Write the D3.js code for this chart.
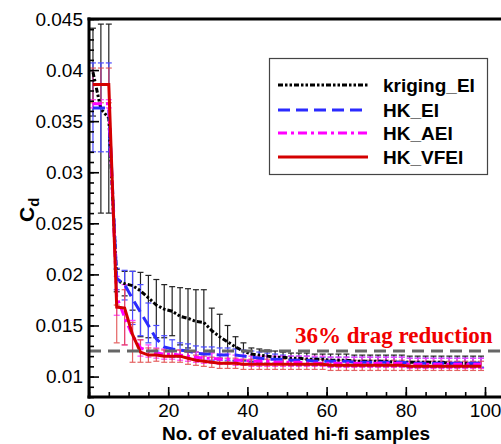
<!DOCTYPE html>
<html>
<head>
<meta charset="utf-8">
<script src="https://cdn.jsdelivr.net/npm/d3@7"></script>
<style>
  body { margin: 0; background: #fff; }
  text { font-family: "Liberation Sans", Arial, sans-serif; }
</style>
</head>
<body>
<div id="container"></div>
<script>
// sample numbers where the curves / error bars are read
let samples = [1,3,5,7,9,11,13,15,17,19,21,23,25,27,29,31,33,35,37,39,41,43,45,47,49,
  51,53,55,57,59,61,63,65,67,69,71,73,75,77,79,81,83,85,87,89,91,93,95,97,99];

let kriging = [.0398,.0362,.0353,.0194,.0191,.0189,.0184,.0177,.0170,.0166,
  .0164,.0159,.0157,.0154,.0153,.0145,.0139,.0134,.0129,.0125,
  .0122,.0121,.0120,.0119,.0119,.0118,.0118,.0117,.0117,.0117,
  .0116,.0116,.0116,.0115,.0115,.0115,.0115,.0115,.0114,.0114,
  .0114,.0114,.0114,.0114,.0114,.0113,.0113,.0113,.0113,.0113];
let krigingLo = [.0355,.0260,.0260,.0183,.0179,.0165,.0139,.0138,.0138,.0138,
  .0140,.0131,.0128,.0124,.0122,.0124,.0118,.0114,.0116,.0116,
  .0115,.0114,.0113,.0113,.0112,.0112,.0112,.0111,.0111,.0111,
  .0110,.0110,.0110,.0110,.0110,.0110,.0110,.0110,.0110,.0110,
  .0109,.0109,.0109,.0109,.0109,.0109,.0109,.0109,.0109,.0109];
let krigingHi = [.0441,.0445,.0445,.0205,.0203,.0203,.0202,.0199,.0195,.0190,
  .0188,.0187,.0186,.0185,.0185,.0167,.0161,.0150,.0139,.0133,
  .0128,.0127,.0126,.0125,.0124,.0123,.0123,.0123,.0122,.0122,
  .0122,.0122,.0122,.0121,.0121,.0121,.0121,.0121,.0121,.0121,
  .0120,.0120,.0120,.0120,.0120,.0120,.0120,.0120,.0120,.0120];

let hkEI = [.0363,.0363,.0363,.0196,.0190,.0176,.0163,.0150,.0137,.0129,
  .0127,.0126,.0125,.0123,.0122,.0122,.0121,.0121,.0121,.0120,
  .0119,.0118,.0117,.0117,.0117,.0116,.0116,.0116,.0115,.0115,
  .0115,.0115,.0115,.0114,.0114,.0114,.0114,.0114,.0114,.0114,
  .0113,.0113,.0113,.0113,.0113,.0113,.0113,.0113,.0113,.0113];
let hkEILo = [.0320,.0320,.0320,.0185,.0175,.0151,.0140,.0133,.0125,.0120,
  .0119,.0119,.0118,.0117,.0116,.0116,.0116,.0116,.0115,.0115,
  .0114,.0113,.0112,.0112,.0112,.0111,.0111,.0111,.0111,.0111,
  .0110,.0110,.0110,.0110,.0110,.0110,.0110,.0110,.0110,.0110,
  .0109,.0109,.0109,.0109,.0109,.0109,.0109,.0109,.0109,.0109];
let hkEIHi = [.0407,.0407,.0407,.0206,.0204,.0203,.0190,.0172,.0150,.0140,
  .0136,.0133,.0132,.0130,.0129,.0129,.0128,.0128,.0127,.0126,
  .0125,.0124,.0123,.0122,.0121,.0120,.0120,.0120,.0119,.0119,
  .0119,.0119,.0119,.0119,.0119,.0119,.0119,.0119,.0119,.0119,
  .0118,.0118,.0118,.0118,.0118,.0118,.0118,.0118,.0118,.0118];

let hkAEI = [.0367,.0367,.0367,.0178,.0158,.0140,.0128,.0125,.0123,.0122,
  .0122,.0121,.0120,.0119,.0118,.0118,.0117,.0117,.0116,.0116,
  .0115,.0115,.0115,.0114,.0114,.0114,.0114,.0113,.0113,.0113,
  .0113,.0113,.0113,.0113,.0113,.0113,.0113,.0113,.0113,.0113,
  .0112,.0112,.0112,.0112,.0112,.0112,.0112,.0112,.0112,.0112];
let hkAEILo = [.0363,.0363,.0363,.0160,.0131,.0125,.0120,.0119,.0118,.0117,
  .0117,.0116,.0115,.0114,.0113,.0113,.0112,.0112,.0111,.0111,
  .0110,.0110,.0110,.0110,.0110,.0110,.0110,.0110,.0110,.0110,
  .0109,.0109,.0109,.0109,.0109,.0109,.0109,.0109,.0109,.0109,
  .0108,.0108,.0108,.0108,.0108,.0108,.0108,.0108,.0108,.0108];
let hkAEIHi = [.0371,.0371,.0371,.0198,.0190,.0155,.0136,.0131,.0128,.0127,
  .0127,.0126,.0125,.0124,.0123,.0123,.0122,.0122,.0121,.0121,
  .0120,.0120,.0120,.0120,.0120,.0120,.0120,.0120,.0120,.0120,
  .0119,.0119,.0119,.0119,.0119,.0119,.0119,.0119,.0119,.0119,
  .0118,.0118,.0118,.0118,.0118,.0118,.0118,.0118,.0118,.0118];

let hkVFEI = [.0386,.0386,.0386,.0168,.0167,.0141,.0124,.0121,.0121,.0120,
  .0120,.0120,.0118,.0116,.0115,.0114,.0113,.0113,.0113,.0112,
  .0112,.0112,.0112,.0112,.0112,.0112,.0112,.0112,.0112,.0112,
  .0111,.0111,.0111,.0111,.0111,.0111,.0111,.0111,.0111,.0111,
  .0110,.0110,.0110,.0110,.0110,.0110,.0110,.0110,.0110,.0110];
let hkVFEILo = [.0368,.0368,.0368,.0133,.0131,.0114,.0114,.0114,.0115,.0114,
  .0114,.0114,.0112,.0111,.0110,.0109,.0108,.0108,.0108,.0107,
  .0107,.0107,.0107,.0107,.0107,.0107,.0107,.0107,.0107,.0107,
  .0106,.0106,.0106,.0106,.0106,.0106,.0106,.0106,.0106,.0106,
  .0106,.0106,.0106,.0106,.0106,.0106,.0106,.0106,.0106,.0106];
let hkVFEIHi = [.0402,.0402,.0402,.0170,.0185,.0153,.0136,.0128,.0127,.0126,
  .0126,.0126,.0124,.0121,.0120,.0119,.0118,.0118,.0118,.0117,
  .0117,.0117,.0117,.0117,.0117,.0117,.0117,.0117,.0117,.0117,
  .0116,.0116,.0116,.0116,.0116,.0116,.0116,.0116,.0116,.0116,
  .0115,.0115,.0115,.0115,.0115,.0115,.0115,.0115,.0115,.0115];

let seriesNames = ["kriging_EI", "HK_EI", "HK_AEI", "HK_VFEI"];
let xTicks = [0, 20, 40, 60, 80, 100];
let yTicks = [0.01, 0.015, 0.02, 0.025, 0.03, 0.035, 0.04, 0.045];
let yTickLabels = ["0.01", "0.015", "0.02", "0.025", "0.03", "0.035", "0.04", "0.045"];
let targetCd = 0.0125;
let targetLabel = "36% drag reduction";

let w = 501;
let h = 444;

let viz = d3.select("#container")
  .append("svg")
    .attr("width", w)
    .attr("height", h)
;

let x = d3.scaleLinear().domain([0, 100]).range([89, 485]);
let y = d3.scaleLinear().domain([0.008, 0.045]).range([397, 19]);

let series = [
  {name: seriesNames[0], v: kriging, lo: krigingLo, hi: krigingHi, color: "#000", bar: "#222", dash: "5,2,2.5,2,2.5,2", width: 3},
  {name: seriesNames[1], v: hkEI, lo: hkEILo, hi: hkEIHi, color: "#2b2bff", bar: "#4a4aff", dash: "12,6", width: 3},
  {name: seriesNames[2], v: hkAEI, lo: hkAEILo, hi: hkAEIHi, color: "#ff00ff", bar: "#ff40ff", dash: "9,4,3,4", width: 3},
  {name: seriesNames[3], v: hkVFEI, lo: hkVFEILo, hi: hkVFEIHi, color: "#d40000", bar: "#e04848", dash: null, width: 3}
];

viz.append("clipPath").attr("id", "plotclip")
  .append("rect")
    .attr("x", 89).attr("y", 17)
    .attr("width", w - 89).attr("height", 380);

let plot = viz.append("g").attr("clip-path", "url(#plotclip)");

//error bars
series.forEach(s => {
  let g = plot.append("g").attr("class", "errbars")
    .attr("stroke", s.bar)
    .attr("stroke-width", 1.2)
    .attr("opacity", s.name == "HK_VFEI" ? 0.85 : 1);
  samples.forEach((sx, i) => {
    let px = x(sx);
    g.append("line").attr("x1", px).attr("x2", px).attr("y1", y(s.lo[i])).attr("y2", y(s.hi[i]));
    g.append("line").attr("x1", px - 3).attr("x2", px + 3).attr("y1", y(s.lo[i])).attr("y2", y(s.lo[i]));
    g.append("line").attr("x1", px - 3).attr("x2", px + 3).attr("y1", y(s.hi[i])).attr("y2", y(s.hi[i]));
  });
});

//curves
let line = d3.line()
  .x((d, i) => x(samples[i]))
  .y(d => y(d));

series.forEach(s => {
  plot.append("path")
    .datum(s.v)
    .attr("d", line)
    .attr("fill", "none")
    .attr("stroke", s.color)
    .attr("stroke-width", s.width)
    .attr("stroke-dasharray", s.dash)
  ;
});

//target line
viz.append("line")
  .attr("x1", x(0)).attr("x2", w)
  .attr("y1", y(targetCd)).attr("y2", y(targetCd))
  .attr("stroke", "#666")
  .attr("stroke-width", 3)
  .attr("stroke-dasharray", "12,7")
;

viz.append("text")
  .text(targetLabel)
  .attr("x", 295)
  .attr("y", 343)
  .style("font-family", "'Liberation Serif', 'Times New Roman', serif")
  .style("font-weight", "bold")
  .style("font-size", "23px")
  .attr("fill", "#f00000")
;

//axes
let yAxis = d3.axisLeft(y)
  .tickValues(yTicks)
  .tickFormat((d, i) => yTickLabels[i])
  .tickSizeInner(-10)
  .tickSizeOuter(0)
  .tickPadding(6);
let yMinor = d3.axisLeft(y)
  .tickValues(d3.range(8, 46).map(d => d / 1000))
  .tickFormat("")
  .tickSizeInner(-5)
  .tickSizeOuter(0);
let xAxis = d3.axisBottom(x)
  .tickValues(xTicks)
  .tickSizeInner(-10)
  .tickSizeOuter(0)
  .tickPadding(7);
let xMinor = d3.axisBottom(x)
  .tickValues(d3.range(0, 101, 5))
  .tickFormat("")
  .tickSizeInner(-5)
  .tickSizeOuter(0);

viz.append("g").attr("transform", "translate(89,0)").call(yMinor);
viz.append("g").attr("transform", "translate(89,0)").call(yAxis);
viz.append("g").attr("transform", "translate(0,397)").call(xMinor);
viz.append("g").attr("transform", "translate(0,397)").call(xAxis);

viz.selectAll(".tick line").attr("stroke", "#000").attr("stroke-width", 1.6);
viz.selectAll(".domain").attr("stroke", "none");
viz.selectAll(".tick text")
  .style("font-family", "'Liberation Sans', Arial, sans-serif")
  .style("font-size", "19px")
  .attr("fill", "#000");

// frame: left, bottom, top
viz.append("line").attr("x1", 89).attr("x2", 89).attr("y1", 17.5).attr("y2", 398.5)
  .attr("stroke", "#000").attr("stroke-width", 3);
viz.append("line").attr("x1", 87.5).attr("x2", w).attr("y1", 397).attr("y2", 397)
  .attr("stroke", "#000").attr("stroke-width", 3);
viz.append("line").attr("x1", 87.5).attr("x2", w).attr("y1", 19).attr("y2", 19)
  .attr("stroke", "#000").attr("stroke-width", 3);

//axis titles
viz.append("text")
  .text("No. of evaluated hi-fi samples")
  .attr("x", 296)
  .attr("y", 440)
  .attr("text-anchor", "middle")
  .style("font-weight", "bold")
  .style("font-size", "19px")
;

let yTitle = viz.append("text")
  .attr("transform", "translate(34,222) rotate(-90)")
  .style("font-weight", "bold")
  .style("font-size", "21px");
yTitle.append("tspan").text("C");
yTitle.append("tspan").text("d").attr("dy", 5).style("font-size", "15px");

//legend
let legend = viz.append("g").attr("class", "legend");
legend.append("rect")
  .attr("x", 269.5).attr("y", 58.5)
  .attr("width", 218).attr("height", 116)
  .attr("fill", "#fff")
  .attr("stroke", "#444")
  .attr("stroke-width", 1.2);

let legendRows = [85, 110, 133, 157];
series.forEach((s, i) => {
  legend.append("line")
    .attr("x1", 278).attr("x2", 368)
    .attr("y1", legendRows[i]).attr("y2", legendRows[i])
    .attr("stroke", s.color)
    .attr("stroke-width", s.width)
    .attr("stroke-dasharray", s.dash);
  legend.append("text")
    .text(s.name)
    .attr("x", 383)
    .attr("y", legendRows[i] + 6.5)
    .style("font-weight", "bold")
    .style("font-size", "19px");
});
</script>
</body>
</html>
